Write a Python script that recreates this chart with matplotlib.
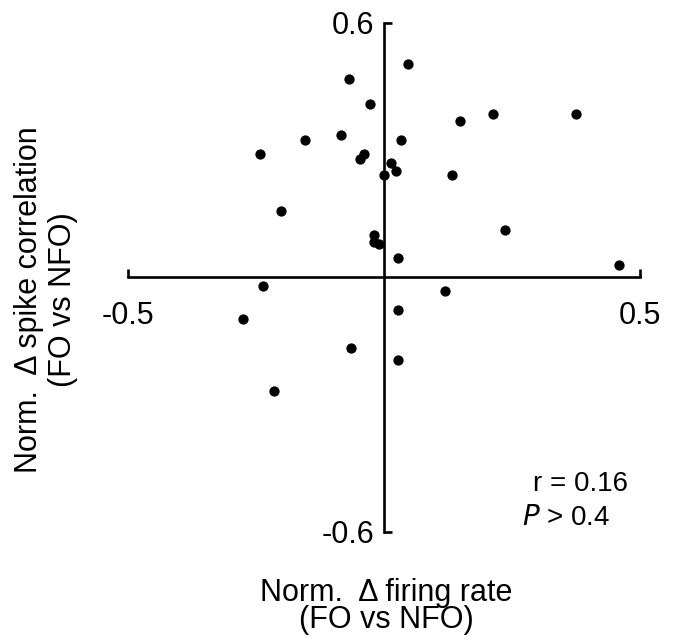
import matplotlib
matplotlib.use("Agg")
import matplotlib.pyplot as plt

plt.rcParams["font.family"] = ["Liberation Sans", "DejaVu Sans"]

# normalized change in firing rate (FO vs NFO)
d_rate = [0.047, -0.069, -0.027, 0.214, 0.376, 0.149, -0.154, -0.084, 0.033,
          -0.242, -0.038, -0.047, 0.014, 0.023, 0.000, 0.134, -0.200, 0.236,
          -0.020, -0.020, -0.009, 0.028, 0.460, -0.237, 0.120, 0.028, -0.275,
          -0.064, 0.028, -0.214]
# normalized change in spike correlation (FO vs NFO)
d_corr = [0.503, 0.468, 0.408, 0.385, 0.385, 0.369, 0.324, 0.335, 0.324,
          0.290, 0.291, 0.279, 0.268, 0.251, 0.240, 0.240, 0.157, 0.112,
          0.100, 0.083, 0.078, 0.045, 0.028, -0.020, -0.032, -0.077, -0.099,
          -0.167, -0.195, -0.268]
x_ticks = [-0.5, 0.5]
y_ticks = [-0.6, 0.6]

fs = 22
fig = plt.figure(figsize=(6.77, 6.44), dpi=100)
ax = fig.add_axes([0.189, 0.174, 0.756, 0.791])

ax.plot(d_rate, d_corr, "o", color="black", markersize=7.4, mec="none", clip_on=False)

ax.set_xlim(-0.5, 0.5)
ax.set_ylim(-0.6, 0.6)
for s in ["top", "right"]:
    ax.spines[s].set_visible(False)
ax.spines["left"].set_position(("data", 0))
ax.spines["bottom"].set_position(("data", 0))
ax.spines["left"].set_linewidth(1.9)
ax.spines["bottom"].set_linewidth(1.9)

ax.set_xticks(x_ticks)
ax.set_xticklabels(["-0.5", "0.5"])
ax.set_yticks(y_ticks)
ax.set_yticklabels(["-0.6", "0.6"])
ax.tick_params(axis="x", direction="in", length=6, width=1.9, labelsize=fs, pad=17)
ax.tick_params(axis="y", direction="in", length=6, width=1.9, labelsize=fs, pad=7)

fig.text(0.570, 0.058, "Norm.  \u0394 firing rate\n(FO vs NFO)", ha="center", va="center",
         fontsize=fs, linespacing=0.9)
fig.text(0.068, 0.535, "Norm.  \u0394 spike correlation\n(FO vs NFO)", ha="center", va="center",
         rotation=90, fontsize=fs, linespacing=1.2)

ax.text(0.977, 0.094, "r = 0.16", transform=ax.transAxes, ha="right", va="center", fontsize=20)
ax.text(0.770, 0.027, "$\\it{P}$ > 0.4", transform=ax.transAxes, ha="left", va="center", fontsize=20)

plt.savefig("out.png", dpi=100)
